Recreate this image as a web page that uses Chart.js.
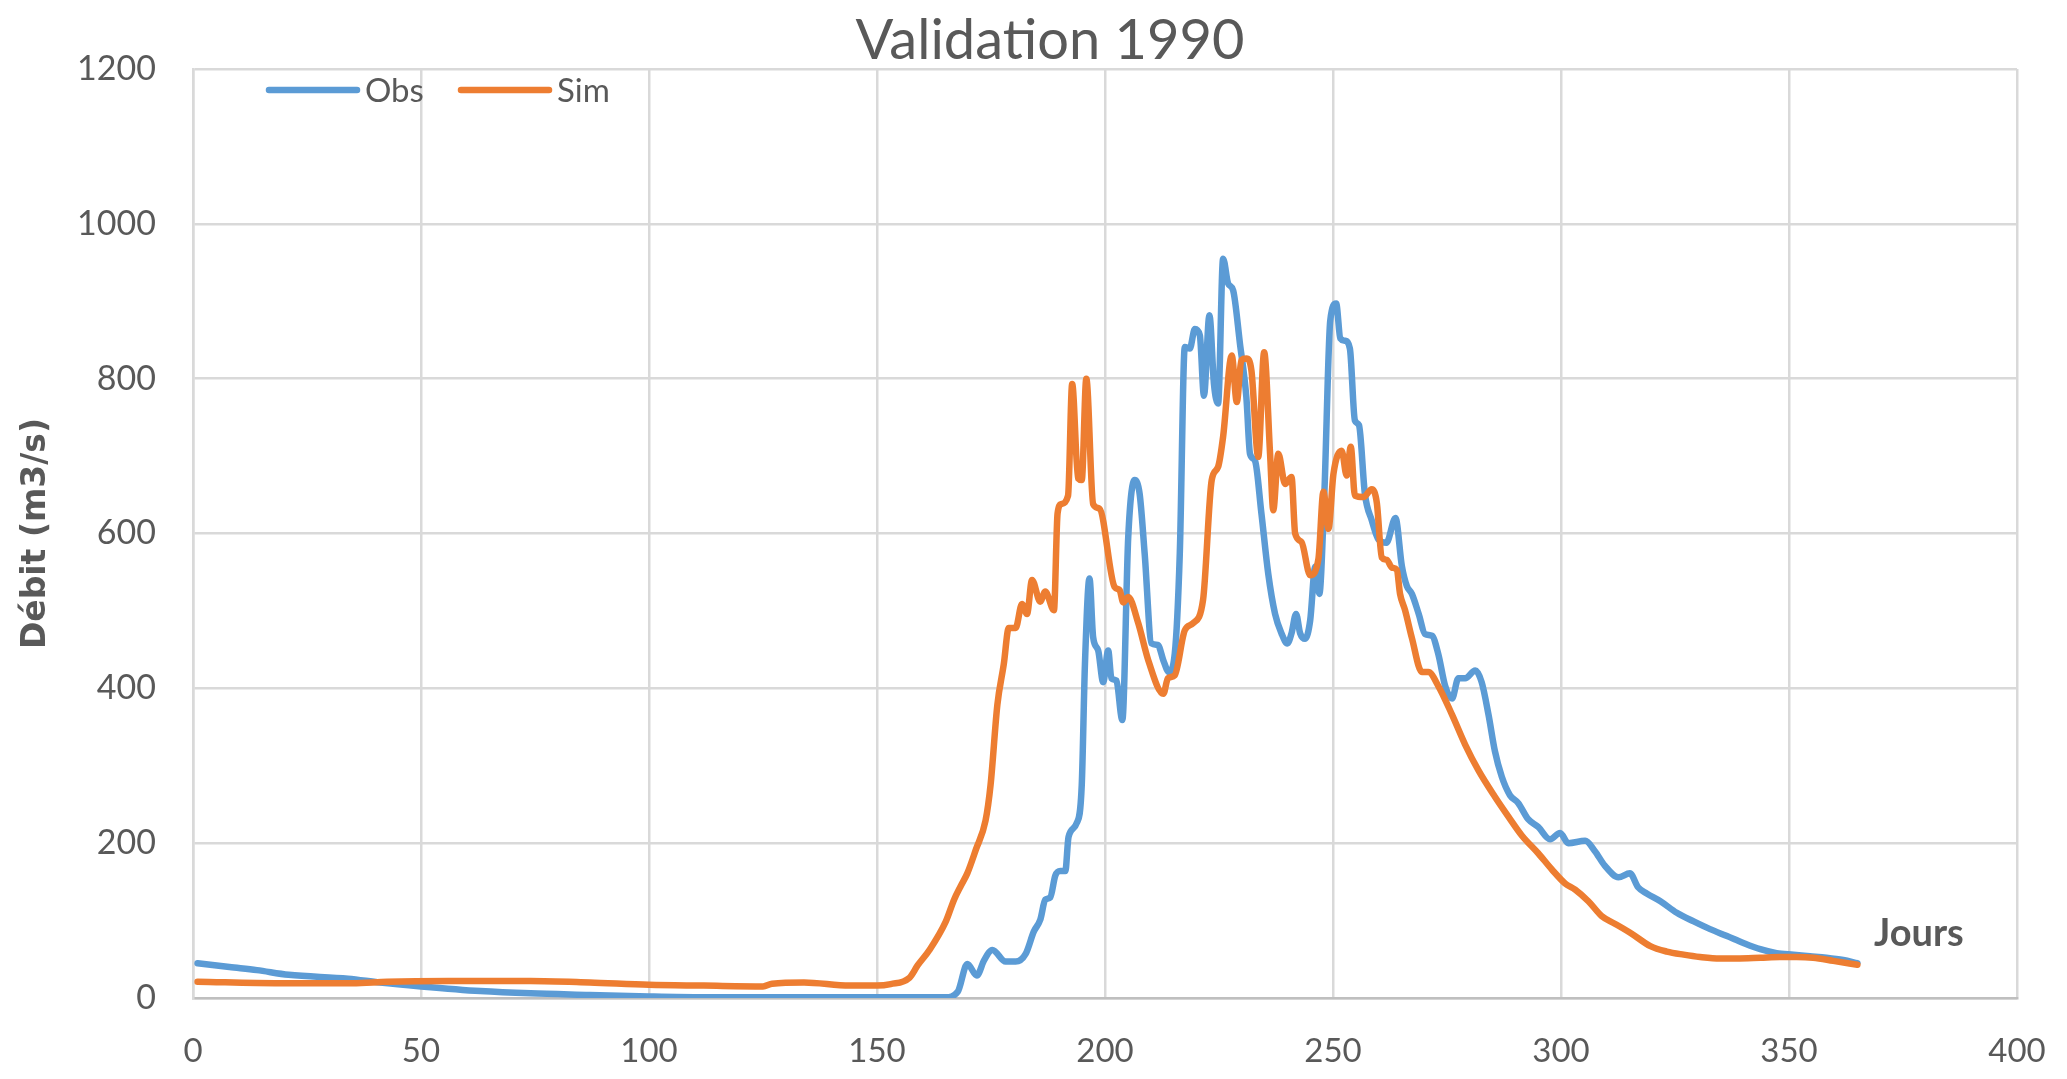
<!DOCTYPE html>
<html lang="fr">
<head>
<meta charset="utf-8">
<title>Validation 1990</title>
<script src="https://cdn.jsdelivr.net/npm/chart.js@4.4.1/dist/chart.umd.min.js"></script>
<style>
    html, body { margin: 0; padding: 0; background: #ffffff; }
    #graficoDebit { display: block; }
</style>
</head>
<body>
<canvas id="graficoDebit" width="2067" height="1079"></canvas>
<script>
// Datos (día del año, caudal en m3/s)
const obsDias = [1, 8, 14, 21, 34, 41, 50, 63, 74, 87, 100, 112, 140, 165, 167.7, 169.8, 171.9, 173.5, 175.3, 178.2,
    180.4, 182.6, 184.4, 185.8, 186.9, 188, 189.1, 190.2, 191.3, 192, 193.8, 194.9, 195.6, 196.6, 197.4, 198.5,
    199.6, 200.7, 201.4, 202.5, 203.8, 205.1, 206.5, 207.6, 208.7, 210.2, 211.6, 212.8, 214, 215.3, 216.4, 217.5,
    218.6, 219.7, 220.8, 221.7, 222.9, 223.9, 224.8, 225.9, 227, 228.1, 229.6, 231, 231.8, 232.9, 234.3, 235.8,
    237.3, 238.7, 240, 240.9, 241.9, 242.8, 243.9, 245, 246.1, 247, 248.1, 249.4, 250.7, 251.6, 252.6, 253.7,
    254.8, 255.7, 257, 258.5, 260, 261.7, 263.7, 265.1, 266.2, 267.3, 268.8, 270.2, 271.7, 273.1, 274.6, 276.1,
    277.5, 279, 281.2, 282.6, 284.1, 285.5, 287, 288.8, 290.6, 292.8, 295, 297.6, 299.8, 301.6, 305.3, 307.4,
    309.6, 312.6, 315.1, 316.9, 318.8, 321.8, 325.4, 329.1, 332.7, 336.4, 340, 343.7, 347.3, 351, 354.6, 358.2,
    361.9, 365];
const obsCaudal = [45, 40, 36, 30, 25, 20, 15, 9, 6, 4, 2, 1, 1, 1, 8, 44, 29, 49, 62, 47,
    47, 57, 86, 101, 127, 130, 158, 164, 164, 208, 226, 275, 431, 542, 466, 449,
    408, 449, 413, 410, 359, 596, 669, 651, 574, 458, 456, 436, 421, 445, 574, 841,
    839, 864, 856, 778, 882, 793, 768, 955, 923, 914, 845, 776, 703, 694, 626, 548,
    496, 471, 458, 471, 496, 471, 464, 488, 557, 522, 651, 875, 897, 852, 849, 839,
    746, 740, 651, 617, 592, 588, 620, 558, 532, 522, 496, 470, 468, 444, 403, 387,
    413, 413, 423, 408, 366, 319, 286, 262, 252, 231, 221, 205, 213, 200, 203, 190,
    171, 156, 161, 143, 135, 125, 110, 99, 89, 80, 71, 63, 58, 56, 54, 52,
    49, 45];

const simDias = [1, 19, 35, 42.6, 56, 74, 87, 100, 112, 125, 127, 134, 144, 150, 153, 157.1, 158.9, 161.5, 165.1,
    166.9, 168.4, 169.8, 171.7, 173.8, 174.9, 176.4, 177.8, 178.9, 180.4, 181.8, 182.9, 184, 185.8, 186.9, 188.8,
    189.6, 190.4, 191.9, 192.8, 194.1, 194.9, 195.9, 197.4, 198.8, 202.1, 203.2, 204, 205.1, 207.3, 209.5, 212.8,
    213.8, 215.3, 217.5, 219.3, 221.5, 223.4, 224.8, 225.9, 227.8, 228.9, 229.9, 231, 232.1, 233.6, 234.9, 236.2,
    236.9, 238, 239.5, 240.9, 241.7, 243.1, 245, 246.8, 247.9, 249, 250.1, 251.9, 253, 253.9, 254.8, 256.7,
    258.5, 259.6, 260.7, 261.8, 262.9, 264, 264.7, 265.8, 267.3, 269.5, 270.9, 273.1, 276.1, 279, 281.9, 285.5,
    288.5, 291.4, 295, 298, 300.9, 303.1, 306, 308.9, 311.8, 315.5, 319.6, 323.2, 326.9, 330.5, 334.9, 338.5,
    343.7, 348, 351.7, 355.3, 359.7, 365];
const simCaudal = [21, 19, 19, 21, 22, 22, 20, 17, 16, 15, 18.5, 20, 16, 16, 18, 26, 42, 62, 99,
    127, 145, 161, 192, 229, 275, 379, 431, 478, 478, 509, 496, 540, 512, 525, 501,
    626, 638, 649, 793, 671, 669, 800, 638, 632, 531, 527, 511, 518, 484, 436, 393,
    413, 417, 475, 484, 514, 669, 686, 725, 830, 770, 824, 826, 811, 699, 834, 703,
    630, 703, 664, 673, 600, 589, 546, 567, 654, 606, 677, 707, 675, 712, 649, 647,
    657, 640, 569, 566, 556, 553, 522, 501, 465, 421, 421, 403, 366, 327, 294, 260,
    234, 210, 187, 166, 148, 140, 125, 106, 96, 83, 67, 60, 56, 53, 51, 51,
    52, 53, 53, 52, 48, 43];

// Ejes
const diasMin = 0, diasMax = 400, diasPaso = 50;
const caudalMin = 0, caudalMax = 1200, caudalPaso = 200;

const GRIS_TEXTO = '#595959';
const GRIS_REJILLA = '#D9D9D9';
const AZUL = '#5B9BD5';
const NARANJA = '#ED7D31';

// Plugin: título, leyenda dentro del área del gráfico y etiqueta "Jours"
const textosGrafico = {
    id: 'textosGrafico',
    afterDraw(chart) {
        const ctx = chart.ctx;
        ctx.save();

        // Título
        ctx.fillStyle = GRIS_TEXTO;
        ctx.font = '56px Lato';
        ctx.textAlign = 'center';
        ctx.textBaseline = 'alphabetic';
        ctx.fillText('Validation 1990', 1050, 59);

        // Leyenda
        ctx.lineWidth = 6.5;
        ctx.lineCap = 'round';
        ctx.font = '33px Lato';
        ctx.textBaseline = 'middle';
        ctx.textAlign = 'left';
        const y = 90;
        const items = [
            { x: 269, ds: chart.data.datasets[0] },
            { x: 461, ds: chart.data.datasets[1] }
        ];
        items.forEach(item => {
            ctx.strokeStyle = item.ds.borderColor;
            ctx.beginPath();
            ctx.moveTo(item.x, y);
            ctx.lineTo(item.x + 88, y);
            ctx.stroke();
            ctx.fillStyle = GRIS_TEXTO;
            ctx.fillText(item.ds.label, item.x + 96, y + 1);
        });

        // Título del eje X, dentro del gráfico
        ctx.font = 'bold 38px Lato';
        ctx.fillText('Jours', 1874, 934);
        ctx.restore();
    }
};

function generarGrafico() {
    const ctx = document.getElementById('graficoDebit').getContext('2d');
    new Chart(ctx, {
        type: 'line',
        data: {
            datasets: [{
                label: 'Obs',
                data: obsDias.map((d, i) => ({ x: d, y: obsCaudal[i] })),
                borderColor: AZUL,
                backgroundColor: AZUL,
                borderWidth: 6.5,
                pointRadius: 0,
                cubicInterpolationMode: 'monotone',
                borderJoinStyle: 'round',
                borderCapStyle: 'round',
                order: 1
            }, {
                label: 'Sim',
                data: simDias.map((d, i) => ({ x: d, y: simCaudal[i] })),
                borderColor: NARANJA,
                backgroundColor: NARANJA,
                borderWidth: 6.5,
                pointRadius: 0,
                cubicInterpolationMode: 'monotone',
                borderJoinStyle: 'round',
                borderCapStyle: 'round',
                order: 0
            }]
        },
        options: {
            responsive: false,
            animation: false,
            devicePixelRatio: 1,
            layout: { padding: { left: 0, right: 50, top: 69, bottom: 0 } },
            plugins: {
                legend: { display: false },
                tooltip: { enabled: false },
                title: { display: false }
            },
            scales: {
                x: {
                    type: 'linear',
                    min: diasMin,
                    max: diasMax,
                    ticks: {
                        stepSize: diasPaso,
                        color: GRIS_TEXTO,
                        font: { family: 'Lato', size: 33 },
                        padding: 34,
                        maxRotation: 0,
                        callback: v => String(v)
                    },
                    grid: { color: GRIS_REJILLA, lineWidth: 2.5, drawTicks: false },
                    border: { color: '#BFBFBF', width: 2.5 },
                    afterFit: scale => {
                        scale.height = 81;
                        // el borde derecho lo fija el padding del layout
                        scale.paddingLeft = 0;
                        scale.paddingRight = 0;
                    }
                },
                y: {
                    type: 'linear',
                    min: caudalMin,
                    max: caudalMax,
                    ticks: {
                        stepSize: caudalPaso,
                        color: GRIS_TEXTO,
                        font: { family: 'Lato', size: 34 },
                        padding: 37,
                        callback: v => String(v)
                    },
                    grid: { color: GRIS_REJILLA, lineWidth: 2.5, drawTicks: false },
                    border: { color: GRIS_REJILLA, width: 2.5 },
                    title: {
                        display: true,
                        text: 'Débit (m3/s)',
                        color: GRIS_TEXTO,
                        font: { family: 'DejaVu Sans', size: 33, weight: 'bold', lineHeight: 1.2 },
                        padding: { top: 17, bottom: 0 }
                    },
                    afterFit: scale => { scale.width = 193; }
                }
            }
        },
        plugins: [textosGrafico]
    });
}

window.onload = function() {
    generarGrafico();
};
</script>
</body>
</html>
